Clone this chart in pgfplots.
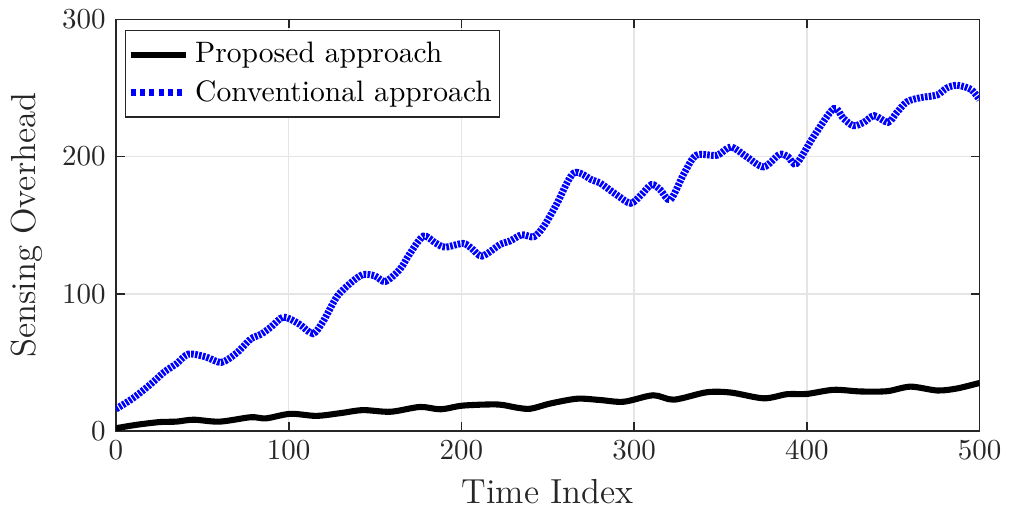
\documentclass[border=0pt]{standalone}
\usepackage{pgfplots}
\pgfplotsset{compat=1.18}
\begin{document}
\begin{tikzpicture}
\definecolor{axgray}{gray}{0.15}
\begin{axis}[
  scale only axis, width=298pt, height=142pt,
  xmin=0, xmax=500, ymin=0, ymax=300,
  xtick={0,100,200,300,400,500},
  ytick={0,100,200,300},
  grid=major, major grid style={gray!20, line width=0.5pt},
  axis line style={axgray, line width=0.6pt},
  tick style={axgray, line width=0.6pt},
  tick align=inside, major tick length=3pt,
  xtick pos=both, ytick pos=both,
  ticklabel style={font=\normalsize, text=axgray},
  xlabel={Time Index}, ylabel={Sensing Overhead},
  label style={font=\large, text=axgray},
  legend style={at={(rel axis cs:0,1)}, anchor=north west, xshift=3.1pt, yshift=-3.6pt,
    draw=axgray, line width=0.5pt, font=\fontsize{10.2}{12}\selectfont, legend cell align=left,
    inner xsep=0.6pt, inner ysep=2pt, row sep=0.6pt},
  legend image code/.code={\draw[#1] (0pt,0pt) -- (19pt,0pt);},
]
\addplot[black, line width=2.1pt, smooth, tension=0.5] coordinates {
(0,2) (12,4.5) (25.5,6.5) (35,6.8) (45,8.2) (60,6.8) (78,10) (87,9.2) (101,12.5) (116,11) (130,13) (143,15.2) (159,14) (176,17.5) (188,15.8) (201,18.5) (221,19.3) (232,17) (240,16.2) (251.5,20) (267,23.5) (280,22.6) (294,21.3) (311,26) (323,22.8) (342,28.2) (356,28) (375,23.8) (388.5,26.8) (400,27) (415.6,30) (431,28.8) (446.5,29) (460,32.3) (475.5,29.5) (487,31) (500,35)
};
\addlegendentry{Proposed approach}
\addplot[blue, line width=2.4pt, dash pattern=on 0.9pt off 0.45pt, smooth, tension=0.5,
  forget plot] coordinates {
(0,16) (10,24) (20,34) (28,43) (35,49) (42,56) (52,54) (61,50) (70,57) (78,67) (84,70.5) (90,76) (97,83) (106,78) (114,71) (120,80) (128,98) (136,108) (143,114) (150,113) (156,109) (164.5,118) (170,129) (178,142) (185,137) (190.6,134) (201,136.7) (206,133) (212,127.5) (222.5,136) (228,138.4) (235,143) (242,141.6) (247.6,149) (255,165) (265,188) (275.6,183) (280,181) (290,172) (298,166) (304,172) (310,179.6) (315,176) (321,168.7) (329,188) (336,201) (348,201) (356,207) (365,200) (375,192.5) (384,201.5) (389,200) (394,195) (404,214.8) (415.6,235) (421,228) (427,222.5) (433,225) (439,229.8) (447,225) (452,232) (458,240) (466,243) (475.5,245) (481,250) (487,252) (495,249) (500,241.5)
};
\addlegendimage{blue, line width=2.4pt, dash pattern=on 1.7pt off 1.5pt}
\addlegendentry{Conventional approach}
\coordinate (sw) at (rel axis cs:0,0);
\coordinate (ne) at (rel axis cs:1,1);
\end{axis}
\path[use as bounding box] ([xshift=-40pt,yshift=-30.3pt]sw) rectangle ([xshift=10.7pt,yshift=6.7pt]ne);
\end{tikzpicture}
\end{document}
